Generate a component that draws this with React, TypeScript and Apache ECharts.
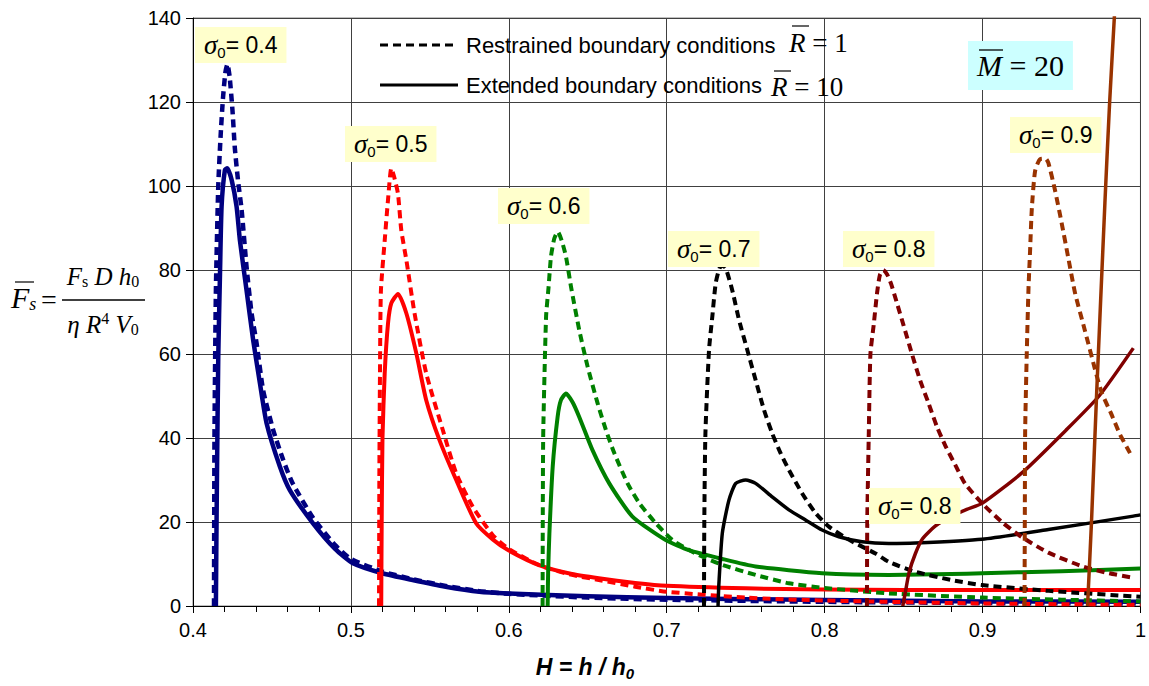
import React, { useEffect, useRef } from "react";
import * as echarts from "echarts";

const X_MIN = 0.4;
const X_MAX = 1.0;
const X_STEP = 0.1;
const Y_MIN = 0;
const Y_MAX = 140;
const Y_STEP = 20;

// sigma0 = 0.4
const blueRestrained = [[0.4133,0],[0.4136,40],[0.4145,75],[0.416,100],[0.4175,112],[0.419,121],[0.4205,127],[0.4218,129],[0.4232,126],[0.425,118],[0.4265,109],[0.4286,101],[0.4308,94.3],[0.4339,80.8],[0.4371,69.7],[0.4403,62.5],[0.4444,51.4],[0.4508,41.9],[0.4571,34.8],[0.463,29.3],[0.476,21],[0.49,14.5],[0.5,11.2],[0.52,8.2],[0.54,6.3],[0.56,4.8],[0.58,3.6],[0.6,2.9],[0.65,2.0],[0.7,1.5],[0.8,1.0],[0.9,0.7],[1.0,0.6]];
const blueExtended = [[0.4145,0],[0.4148,15],[0.4152,31.6],[0.416,59.4],[0.4171,79.2],[0.4181,95.1],[0.4202,103.8],[0.4217,104.2],[0.4245,101.4],[0.4276,95.1],[0.4297,87.1],[0.4339,75.2],[0.4381,63.3],[0.4424,53],[0.4466,43.5],[0.455,33.2],[0.4613,27.6],[0.476,19.7],[0.49,13.6],[0.5013,10.2],[0.52,7.8],[0.539,6.2],[0.56,4.6],[0.5814,3.4],[0.6,3.0],[0.65,2.3],[0.7,1.9],[0.8,1.4],[0.9,1.1],[1.0,1.0]];
// sigma0 = 0.5
const redRestrained = [[0.5178,0],[0.518,30],[0.5184,55],[0.519,75],[0.5214,87],[0.5235,96.7],[0.5256,104.2],[0.5275,102],[0.5298,98.2],[0.5319,89.5],[0.5351,82.4],[0.5403,69.7],[0.5477,55.4],[0.5582,41.9],[0.5667,31.6],[0.5772,23.6],[0.59,16.8],[0.6,13.6],[0.62,9.6],[0.64,7.4],[0.657,6.2],[0.68,4.6],[0.7,3.4],[0.75,2.0],[0.8,1.3],[0.9,0.6],[1.0,0.3]];
const redExtended = [[0.5192,0],[0.5195,20],[0.52,40],[0.5214,55.4],[0.5235,67.3],[0.5256,72.1],[0.5298,74.3],[0.5351,69.7],[0.5414,60.2],[0.5477,49],[0.5561,39.5],[0.5667,30],[0.5793,19.7],[0.59,15.8],[0.6,13.2],[0.62,9.6],[0.64,7.6],[0.657,6.6],[0.68,5.5],[0.7,4.8],[0.75,4.2],[0.8,3.9],[0.9,3.8],[1.0,3.8]];
// sigma0 = 0.6
const greenRestrained = [[0.6214,0],[0.6215,20],[0.6218,41],[0.6236,68.9],[0.6252,76],[0.6267,83.2],[0.6288,87.5],[0.631,89.1],[0.6335,87],[0.6362,83.2],[0.6394,76],[0.6446,65.7],[0.6499,57],[0.6562,48.3],[0.6615,41.9],[0.6668,36.4],[0.6752,29.2],[0.6826,24.5],[0.6931,19.7],[0.7036,15.7],[0.714,13.4],[0.7205,12.1],[0.7352,9.8],[0.7563,7.4],[0.7774,5.4],[0.8,4.3],[0.8406,3.0],[0.9,2.0],[0.95,1.5],[1.0,1.1]];
const greenExtended = [[0.6246,0],[0.6249,8],[0.6257,17.3],[0.6278,33.2],[0.6309,45],[0.633,49],[0.6362,50.6],[0.6404,48.5],[0.6446,45],[0.653,37.1],[0.6636,29.2],[0.6783,21.3],[0.6994,15.7],[0.714,13.3],[0.7352,11.2],[0.7563,9.4],[0.7984,7.8],[0.8406,7.4],[0.88,7.6],[0.9,7.8],[0.95,8.3],[1.0,8.9]];
// sigma0 = 0.7
const blackRestrained = [[0.7236,0],[0.7238,20],[0.7245,41],[0.7268,61],[0.7289,69],[0.731,76.8],[0.7335,80.5],[0.7355,81],[0.7374,80.4],[0.7415,75.2],[0.7458,68.1],[0.751,61],[0.7563,53.8],[0.7616,46.7],[0.7668,41.1],[0.7721,36.4],[0.7774,32.4],[0.7858,26.8],[0.7943,22.1],[0.8027,18.9],[0.8153,15.8],[0.8322,12.5],[0.8406,10.5],[0.857,8.2],[0.88,6.2],[0.8996,5],[0.942,3.6],[1.0,2.2]];
const blackExtended = [[0.7325,0],[0.733,5],[0.7352,17.3],[0.7394,25.2],[0.7437,29.2],[0.75,30],[0.7563,29.2],[0.7668,26],[0.7774,22.9],[0.7879,20.5],[0.7984,18.1],[0.809,16.5],[0.8237,15.3],[0.8406,14.9],[0.8574,15],[0.8996,15.9],[0.9417,18.2],[0.9955,21.4],[1.0,21.7]];
// sigma0 = 0.8
const darkRedRestrained = [[0.8268,0],[0.827,20],[0.828,41.8],[0.829,60],[0.8311,67],[0.8332,74.5],[0.835,78.8],[0.8372,80],[0.8395,79],[0.842,76.8],[0.8455,72.5],[0.85,66.8],[0.8553,60],[0.8606,53.6],[0.8659,48.2],[0.8711,42.7],[0.8764,38.2],[0.8827,33.6],[0.889,29.1],[0.8996,24.5],[0.9122,20],[0.9249,16.4],[0.9417,12.7],[0.9628,9.5],[0.98,7.8],[0.9944,6.8]];
const darkRedExtended = [[0.8495,0],[0.851,3],[0.8535,8],[0.8575,12.5],[0.862,16],[0.87,19],[0.88,21.3],[0.89,23],[0.9,24.5],[0.9253,31.8],[0.9527,41.8],[0.9738,50],[0.9955,61.4]];
// sigma0 = 0.9
const brownRestrained = [[0.9266,0],[0.9268,23.6],[0.927,41.8],[0.928,60],[0.9291,75.5],[0.9301,84.5],[0.9312,94.5],[0.9333,103.6],[0.9365,106.4],[0.94,106.5],[0.9417,105.5],[0.9459,99],[0.9502,91],[0.9544,82.7],[0.9586,74.5],[0.9649,65.5],[0.9712,56.4],[0.9754,50.9],[0.9818,45.5],[0.987,40.9],[0.9934,36.4]];
const brownExtended = [[0.9665,0],[0.969,20],[0.9723,50.9],[0.9775,96],[0.9805,120],[0.9842,145]];

const sigmaLabels = ["0.4", "0.5", "0.6", "0.7", "0.8", "0.9", "0.8"];

const SANS = "'Liberation Sans', Arial, sans-serif";
const SERIF = "'Liberation Serif', 'Times New Roman', serif";

function seriesOf(data: number[][], color: string, dashed: boolean, width: number) {
  return {
    type: "line",
    data,
    showSymbol: false,
    symbol: "none",
    silent: true,
    clip: true,
    smooth: 0.2,
    lineStyle: { color, width, type: dashed ? [8, 5] : "solid", cap: "butt", join: "round" },
  };
}

const sigmaRich = {
  s: { fontFamily: SERIF, fontStyle: "italic", fontSize: 27, lineHeight: 30, fill: "#000" },
  sub: { fontFamily: SANS, fontSize: 15, lineHeight: 15, verticalAlign: "bottom", fill: "#000" },
  t: { fontFamily: SANS, fontSize: 23, lineHeight: 30, fill: "#000" },
};

function sigmaBox(x: number, y: number, label: string) {
  return {
    type: "text",
    x,
    y,
    z: 100,
    style: {
      text: `{s|σ}{sub|0}{t|= ${label}}`,
      rich: sigmaRich,
      backgroundColor: "#FFFFCC",
      padding: [3, 9, 3, 9],
      align: "left",
      verticalAlign: "top",
    },
  };
}

export default function App() {
  const ref = useRef<HTMLDivElement>(null);
  useEffect(() => {
    if (!ref.current) return;
    const chart = echarts.init(ref.current, undefined, { renderer: "svg" });
    const serif = (size: number, italic: boolean) => ({ fontFamily: SERIF, fontStyle: italic ? "italic" : "normal", fontSize: size, fill: "#000" });
    const option: any = {
      animation: false,
      backgroundColor: "#ffffff",
      grid: { left: 193, right: 7, top: 18, bottom: 80, show: true, borderColor: "#808080", borderWidth: 1, backgroundColor: "#ffffff" },
      xAxis: {
        type: "value",
        min: X_MIN,
        max: X_MAX,
        interval: X_STEP,
        axisLine: { show: true, onZero: false, lineStyle: { color: "#000", width: 1 } },
        axisTick: { show: true, length: 7, lineStyle: { color: "#000" } },
        minorTick: { show: true, splitNumber: 5, length: 6, lineStyle: { color: "#000" } },
        axisLabel: {
          fontFamily: SANS,
          fontSize: 20,
          color: "#000",
          margin: 14,
          formatter: (v: number) => (Math.abs(v - 1) < 1e-9 ? "1" : v.toFixed(1)),
        },
        splitLine: { show: true, lineStyle: { color: "#404040", width: 1 } },
      },
      yAxis: {
        type: "value",
        min: Y_MIN,
        max: Y_MAX,
        interval: Y_STEP,
        axisLine: { show: true, lineStyle: { color: "#000", width: 1 } },
        axisTick: { show: true, length: 7, lineStyle: { color: "#000" } },
        axisLabel: { fontFamily: SANS, fontSize: 20, color: "#000", margin: 12 },
        splitLine: { show: true, lineStyle: { color: "#404040", width: 1 } },
      },
      series: [
        seriesOf(blueRestrained, "#000080", true, 4.5),
        seriesOf(blueExtended, "#000080", false, 4.5),
        seriesOf(redRestrained, "#FF0000", true, 4),
        seriesOf(redExtended, "#FF0000", false, 4),
        seriesOf(greenRestrained, "#008000", true, 4),
        seriesOf(greenExtended, "#008000", false, 4),
        seriesOf(blackRestrained, "#000000", true, 4),
        seriesOf(blackExtended, "#000000", false, 3.5),
        seriesOf(darkRedRestrained, "#800000", true, 4),
        seriesOf(darkRedExtended, "#800000", false, 3.5),
        seriesOf(brownRestrained, "#993300", true, 4),
        seriesOf(brownExtended, "#993300", false, 3.5),
      ],
      graphic: [
        // legend
        { type: "line", z: 100, shape: { x1: 380, y1: 45, x2: 457, y2: 45 }, style: { stroke: "#000", lineWidth: 3, lineDash: [8, 5] } },
        { type: "text", z: 100, x: 466, y: 45, style: { text: "Restrained boundary conditions", font: `22px ${SANS}`, fill: "#000", align: "left", verticalAlign: "middle" } },
        { type: "text", z: 100, x: 789, y: 43, style: { text: "{r|R}{t| = 1}", rich: { r: serif(27, true), t: serif(27, false) }, align: "left", verticalAlign: "middle" } },
        { type: "line", z: 100, shape: { x1: 792, y1: 26, x2: 809, y2: 26 }, style: { stroke: "#000", lineWidth: 1.2 } },
        { type: "line", z: 100, shape: { x1: 380, y1: 85, x2: 458, y2: 85 }, style: { stroke: "#000", lineWidth: 3 } },
        { type: "text", z: 100, x: 466, y: 85, style: { text: "Extended boundary conditions", font: `22px ${SANS}`, fill: "#000", align: "left", verticalAlign: "middle" } },
        { type: "text", z: 100, x: 771, y: 87, style: { text: "{r|R}{t| = 10}", rich: { r: serif(27, true), t: serif(27, false) }, align: "left", verticalAlign: "middle" } },
        { type: "line", z: 100, shape: { x1: 774, y1: 71, x2: 791, y2: 71 }, style: { stroke: "#000", lineWidth: 1.2 } },
        // M = 20 box
        {
          type: "text", z: 100, x: 968, y: 41,
          style: { text: "{m|M}{t| = 20}", rich: { m: { ...serif(30, true), lineHeight: 36 }, t: { ...serif(30, false), lineHeight: 36 } }, backgroundColor: "#CCFFFF", padding: [6, 9, 7, 9], align: "left", verticalAlign: "top" },
        },
        { type: "line", z: 101, shape: { x1: 979, y1: 50, x2: 1003, y2: 50 }, style: { stroke: "#000", lineWidth: 1.3 } },
        // sigma labels
        sigmaBox(195, 27, sigmaLabels[0]),
        sigmaBox(345, 126, sigmaLabels[1]),
        sigmaBox(498, 188, sigmaLabels[2]),
        sigmaBox(668, 231, sigmaLabels[3]),
        sigmaBox(843, 231, sigmaLabels[4]),
        sigmaBox(1010, 117, sigmaLabels[5]),
        sigmaBox(869, 488, sigmaLabels[6]),
        // y-axis formula
        {
          type: "text", z: 100, x: 11, y: 297,
          style: { text: "{i|F}{sub|s}", rich: { i: { ...serif(30, true), lineHeight: 32 }, sub: { ...serif(18, true), lineHeight: 18, verticalAlign: "bottom" } }, align: "left", verticalAlign: "middle" },
        },
        { type: "line", z: 100, shape: { x1: 15, y1: 282, x2: 34, y2: 282 }, style: { stroke: "#000", lineWidth: 1.2 } },
        { type: "text", z: 100, x: 41, y: 299, style: { text: "=", font: `28px ${SERIF}`, fill: "#000", align: "left", verticalAlign: "middle" } },
        {
          type: "text", z: 100, x: 103, y: 276,
          style: { text: "{i|F}{sub|s}{i| D h}{sub|0}", rich: { i: { ...serif(25, true), lineHeight: 27 }, sub: { ...serif(16, false), lineHeight: 16, verticalAlign: "bottom" } }, align: "center", verticalAlign: "middle" },
        },
        { type: "line", z: 100, shape: { x1: 62, y1: 300, x2: 145, y2: 300 }, style: { stroke: "#000", lineWidth: 1.4 } },
        {
          type: "text", z: 100, x: 103, y: 324,
          style: { text: "{i|η R}{sup|4}{i| V}{sub|0}", rich: { i: { ...serif(25, true), lineHeight: 27 }, sup: { ...serif(16, false), lineHeight: 16, verticalAlign: "top" }, sub: { ...serif(16, false), lineHeight: 16, verticalAlign: "bottom" } }, align: "center", verticalAlign: "middle" },
        },
        // x-axis title
        {
          type: "text", z: 100, x: 585, y: 667,
          style: { text: "{a|H = h / h}{b|0}", rich: { a: { fontFamily: SANS, fontStyle: "italic", fontWeight: "bold", fontSize: 23, lineHeight: 27, fill: "#000" }, b: { fontFamily: SANS, fontStyle: "italic", fontWeight: "bold", fontSize: 15, lineHeight: 15, verticalAlign: "bottom", fill: "#000" } }, align: "center", verticalAlign: "middle" },
        },
      ],
    };
    chart.setOption(option);
    return () => chart.dispose();
  }, []);
  return <div ref={ref} style={{ position: "fixed", left: 0, top: 0, width: 1149, height: 686, background: "#fff" }} />;
}
